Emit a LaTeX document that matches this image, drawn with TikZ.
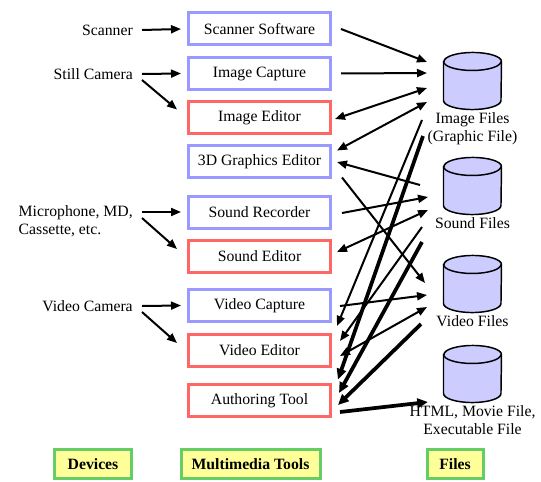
\documentclass[tikz,border=0pt]{standalone}
\usepackage{fontspec}
\setmainfont{Liberation Serif}
\usepackage{tikz}
\usetikzlibrary{arrows.meta}
\usetikzlibrary{calc}
\definecolor{capblue}{RGB}{153,153,255}
\definecolor{edred}{RGB}{255,102,102}
\definecolor{filefill}{RGB}{204,204,255}
\definecolor{headgreen}{RGB}{102,204,102}
\definecolor{headyellow}{RGB}{255,255,153}
\tikzstyle{media}=[x=0.75pt, y=-0.75pt, font=\fontsize{11.8}{13.5}\selectfont]
\tikzstyle{tool}=[rectangle, line width=2.25pt, inner sep=0pt, minimum width=106.5pt, minimum height=24pt]
\tikzstyle{capt}=[tool, draw=capblue]
\tikzstyle{edit}=[tool, draw=edred]
\tikzstyle{dev}=[inner sep=0pt, anchor=east, align=left]
\tikzstyle{file}=[rectangle, inner sep=0pt, minimum width=43.1pt, minimum height=42.4pt]
\tikzstyle{drum}=[draw=black, fill=filefill, line width=1.1pt]
\tikzstyle{flabel}=[align=center, inner sep=1pt, label distance=1pt]
\tikzstyle{head}=[rectangle, draw=headgreen, fill=headyellow, line width=2.25pt, inner sep=0pt, minimum height=21.75pt, font=\fontsize{11.8}{13.5}\selectfont\bfseries]
\tikzstyle{edge}=[-{Triangle[length=7.5pt, width=6pt]}, line width=1.5pt]
\tikzstyle{dedge}=[{Triangle[length=7.5pt, width=6pt]}-{Triangle[length=7.5pt, width=6pt]}, line width=1.5pt]
\tikzstyle{tedge}=[-{Triangle[length=8pt, width=7pt]}, line width=2.8pt]
\begin{document}
\begin{tikzpicture}[media]
	\useasboundingbox (0,0) rectangle (541,481);

	%The devices
	\node[dev] (scanner) at (133,30) {Scanner};
	\node[dev] (stillcam) at (133,74) {Still Camera};
	\node[dev] (mic) at (133,221) {Microphone, MD,\\Cassette, etc.};
	\node[dev] (vidcam) at (133,306) {Video Camera};

	%The tools
	\node[capt] (scansw) at (259.5,29) {Scanner Software};
	\node[capt] (imgcap) at (259.5,73.5) {Image Capture};
	\node[edit] (imged) at (259.5,117.5) {Image Editor};
	\node[capt] (gfx3d) at (259.5,161.5) {3D Graphics Editor};
	\node[capt] (sndrec) at (259.5,212) {Sound Recorder};
	\node[edit] (snded) at (259.5,256) {Sound Editor};
	\node[capt] (vidcap) at (259.5,305.5) {Video Capture};
	\node[edit] (vided) at (259.5,350) {Video Editor};
	\node[edit] (author) at (259.5,400.5) {Authoring Tool};

	%The files
	\node[file, label={[flabel]below:Image Files\\(Graphic File)}] (imgf) at (472.5,81) {};
	\node[file, label={[flabel]below:Sound Files}] (sndf) at (472.5,186) {};
	\node[file, label={[flabel]below:Video Files}] (vidf) at (472.5,284) {};
	\node[file, label={[flabel]below:HTML, Movie File,\\Executable File}] (htmlf) at (472.5,374) {};
	\foreach \f in {imgf,sndf,vidf,htmlf} {
		\filldraw[drum] ($(\f.north west)+(0,9)$) -- ($(\f.south west)+(0,-9)$)
			arc[start angle=180, end angle=360, x radius=21.55pt, y radius=6.75pt]
			-- ($(\f.north east)+(0,9)$)
			arc[start angle=0, end angle=180, x radius=21.55pt, y radius=6.75pt] -- cycle;
		\draw[drum, fill=none] ($(\f.north west)+(0,9)$)
			arc[start angle=180, end angle=360, x radius=21.55pt, y radius=6.75pt];
	}

	%The column heads
	\node[head, minimum width=57.75pt] (devs) at (93,464) {Devices};
	\node[head, minimum width=104.25pt] (tools) at (250.5,464) {Multimedia Tools};
	\node[head, minimum width=42pt] (files) at (455,464) {Files};

	%Devices to tools
	\draw[edge] ($(scanner.east)+(9,0)$) -- ($(scansw.west)+(-6,0)$);
	\draw[edge] ($(stillcam.east)+(9,0)$) -- ($(imgcap.west)+(-6,0)$);
	\draw[edge] ($(stillcam.east)+(9,6)$) -- ($(imged.west)+(-10,-8)$);
	\draw[edge] ($(mic.east)+(9,-9)$) -- ($(sndrec.west)+(-6,0)$);
	\draw[edge] ($(mic.east)+(9,-3)$) -- ($(snded.west)+(-10,-7)$);
	\draw[edge] ($(vidcam.east)+(9,0)$) -- ($(vidcap.west)+(-6,0)$);
	\draw[edge] ($(vidcam.east)+(9,6)$) -- ($(vided.west)+(-10,-7)$);

	%Image files
	\draw[edge] ($(scansw.east)+(9,0)$) -- ($(imgf)+(-45.5,-19)$);
	\draw[edge] ($(imgcap.east)+(9,0)$) -- ($(imgf)+(-45.5,-8)$);
	\draw[dedge] ($(imged.east)+(3,1.5)$) -- ($(imgf)+(-45.5,7)$);
	\draw[dedge] ($(gfx3d.east)+(5,-11)$) -- ($(imgf)+(-45.5,21)$);
	\draw[edge] ($(imgf)+(-50.5,39)$) -- ($(vided.east)+(5,-24)$);
	\draw[tedge] ($(imgf)+(-49.5,55)$) -- ($(author.east)+(6,-21)$);

	%Sound files
	\draw[edge] ($(sndf)+(-52.5,-1)$) -- ($(gfx3d.east)+(5,0.5)$);
	\draw[edge] ($(sndrec.east)+(10,1)$) -- ($(sndf)+(-44.5,11)$);
	\draw[dedge] ($(snded.east)+(5,-4)$) -- ($(sndf)+(-44.5,24)$);
	\draw[edge] ($(sndf)+(-50.5,41)$) -- ($(vided.east)+(8,-9)$);
	\draw[tedge] ($(sndf)+(-50.5,56)$) -- ($(author.east)+(7,-7.5)$);

	%Video files
	\draw[edge] ($(gfx3d.east)+(10,16)$) -- ($(vidf)+(-47.5,-1)$);
	\draw[edge] ($(vidcap.east)+(8,0.5)$) -- ($(vidf)+(-45.5,11)$);
	\draw[dedge] ($(vided.east)+(8,6)$) -- ($(vidf)+(-45.5,23)$);
	\draw[tedge] ($(vidf)+(-51.5,40)$) -- ($(author.east)+(6,4.5)$);

	%Authoring output
	\draw[tedge] ($(author.east)+(8,11.5)$) -- ($(htmlf)+(-44.5,28)$);
\end{tikzpicture}
\end{document}
